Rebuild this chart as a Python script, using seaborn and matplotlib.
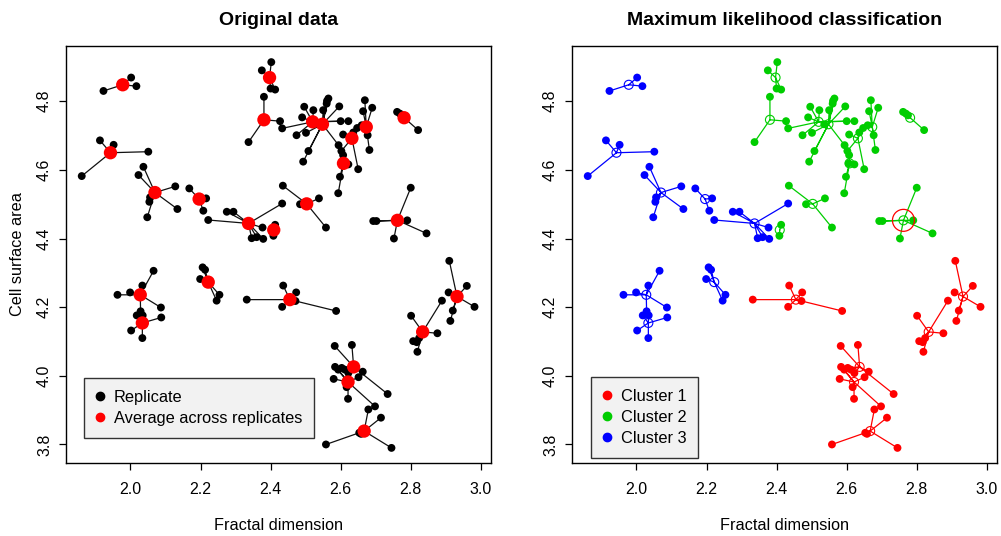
import numpy as np
import pandas as pd
import matplotlib
matplotlib.use("Agg")
import matplotlib.pyplot as plt
from matplotlib.lines import Line2D
import seaborn as sns

# ---- data: replicate measurements grouped by sample, with the sample averages ----
group_name = ["B1", "B2", "B3", "B4", "B5", "B6", "B7", "B8",
              "G1", "G2", "G3a", "G3b", "G3c", "G3d", "G3e", "G4", "G5", "G6", "G7",
              "R1", "R2", "R3", "R4a", "R4b", "R5"]
group_cluster = [3, 3, 3, 3, 3, 3, 3, 3,
                 2, 2, 2, 2, 2, 2, 2, 2, 2, 2, 2,
                 1, 1, 1, 1, 1, 1]

cent_x = [1.978, 1.943, 2.070, 2.196, 2.337, 2.028, 2.034, 2.222,
          2.397, 2.381, 2.520, 2.548, 2.632, 2.673, 2.608, 2.781, 2.503, 2.409, 2.762,
          2.455, 2.834, 2.932, 2.637, 2.621, 2.667]
cent_y = [4.848, 4.650, 4.534, 4.515, 4.444, 4.236, 4.154, 4.273,
          4.869, 4.746, 4.740, 4.733, 4.692, 4.725, 4.619, 4.752, 4.501, 4.425, 4.453,
          4.222, 4.128, 4.231, 4.026, 3.982, 3.839]

rep_x = [
    [1.923, 2.002, 2.017],
    [1.913, 1.952, 2.051, 1.861],
    [2.037, 2.023, 2.128, 2.134, 2.056, 2.054, 2.048],
    [2.168, 2.216, 2.208],
    [2.222, 2.275, 2.294, 2.433, 2.377, 2.346, 2.360, 2.379],
    [1.963, 1.999, 2.034, 2.066, 2.087, 2.029],
    [2.002, 2.034, 2.088, 2.018, 2.035],
    [2.206, 2.213, 2.199, 2.254, 2.246],
    [2.375, 2.402, 2.400, 2.413],
    [2.381, 2.427, 2.337],
    [2.433, 2.490, 2.474, 2.496, 2.600, 2.622, 2.522],
    [2.550, 2.560, 2.565, 2.561, 2.596, 2.501, 2.508, 2.493, 2.536, 2.594],
    [2.607, 2.647, 2.650, 2.636, 2.602],
    [2.669, 2.664, 2.690, 2.677, 2.682, 2.660],
    [2.598, 2.593, 2.606, 2.622, 2.607],
    [2.761, 2.769, 2.775, 2.821],
    [2.435, 2.484, 2.538, 2.558],
    [2.413, 2.408],
    [2.800, 2.693, 2.790, 2.845, 2.752, 2.702],
    [2.332, 2.436, 2.473, 2.433, 2.471, 2.587],
    [2.801, 2.889, 2.876, 2.807, 2.817, 2.824, 2.819],
    [2.910, 2.960, 2.908, 2.982, 2.920, 2.913],
    [2.583, 2.632, 2.734, 2.663, 2.603, 2.612, 2.622],
    [2.698, 2.580, 2.651, 2.621, 2.593, 2.584, 2.617],
    [2.679, 2.715, 2.653, 2.658, 2.558, 2.745],
]
rep_y = [
    [4.830, 4.869, 4.844],
    [4.686, 4.673, 4.653, 4.582],
    [4.609, 4.585, 4.552, 4.486, 4.520, 4.507, 4.462],
    [4.546, 4.517, 4.481],
    [4.454, 4.478, 4.478, 4.502, 4.432, 4.401, 4.404, 4.399],
    [4.236, 4.243, 4.263, 4.306, 4.199, 4.188],
    [4.132, 4.110, 4.170, 4.176, 4.176],
    [4.316, 4.309, 4.282, 4.236, 4.219],
    [4.890, 4.914, 4.837, 4.834],
    [4.813, 4.742, 4.681],
    [4.721, 4.753, 4.701, 4.784, 4.742, 4.742, 4.774],
    [4.774, 4.793, 4.808, 4.801, 4.785, 4.708, 4.655, 4.624, 4.733, 4.672],
    [4.703, 4.722, 4.602, 4.709, 4.655],
    [4.803, 4.771, 4.781, 4.701, 4.658, 4.730],
    [4.580, 4.532, 4.619, 4.616, 4.643],
    [4.769, 4.764, 4.759, 4.716],
    [4.554, 4.500, 4.517, 4.432],
    [4.440, 4.408],
    [4.548, 4.451, 4.453, 4.415, 4.400, 4.451],
    [4.222, 4.263, 4.243, 4.201, 4.218, 4.189],
    [4.175, 4.219, 4.124, 4.101, 4.098, 4.110, 4.070],
    [4.335, 4.262, 4.243, 4.201, 4.190, 4.160],
    [4.087, 4.090, 3.947, 4.012, 4.023, 4.018, 4.008],
    [3.911, 3.991, 3.996, 3.933, 4.018, 4.026, 3.967],
    [3.902, 3.878, 3.834, 3.831, 3.800, 3.790],
]

# sample whose classification is flagged as uncertain
flagged_group = "G7"

cluster_labels = ["Cluster 1", "Cluster 2", "Cluster 3"]
cluster_colors = {1: "#FF0000", 2: "#00CD00", 3: "#0000FF"}

x_ticks = [2.0, 2.2, 2.4, 2.6, 2.8, 3.0]
y_ticks = [3.8, 4.0, 4.2, 4.4, 4.6, 4.8]

# ---- tidy tables ----
reps = pd.DataFrame(
    [(g, c, x, y)
     for g, c, xs, ys in zip(group_name, group_cluster, rep_x, rep_y)
     for x, y in zip(xs, ys)],
    columns=["group", "cluster", "fd", "area"],
)
cents = pd.DataFrame({"group": group_name, "cluster": group_cluster,
                      "fd": cent_x, "area": cent_y})

sns.set_style("white")
plt.rcParams["font.family"] = ["Liberation Sans", "DejaVu Sans"]
plt.rcParams["axes.linewidth"] = 1.0
plt.rcParams["text.color"] = "black"
plt.rcParams["axes.labelcolor"] = "black"
plt.rcParams["axes.titlecolor"] = "black"

fig = plt.figure(figsize=(10.01, 5.36), dpi=100)
ax1 = fig.add_axes([0.0659, 0.1362, 0.4246, 0.778])
ax2 = fig.add_axes([0.5714, 0.1362, 0.4246, 0.778])


def segments(cluster=None):
    xs, ys = [], []
    for g, c, cx, cy, rx, ry in zip(group_name, group_cluster, cent_x, cent_y, rep_x, rep_y):
        if cluster is not None and c != cluster:
            continue
        for x, y in zip(rx, ry):
            xs += [cx, x, np.nan]
            ys += [cy, y, np.nan]
    return xs, ys


# left: raw replicates and their averages
sx, sy = segments()
ax1.plot(sx, sy, color="#111111", lw=0.9, zorder=1)
sns.scatterplot(data=reps, x="fd", y="area", color="black", s=32,
                edgecolor="none", ax=ax1, zorder=3, legend=False)
sns.scatterplot(data=cents, x="fd", y="area", color="#FF0000", s=92,
                edgecolor="none", ax=ax1, zorder=4, legend=False)

# right: classification by cluster
for cl, col in cluster_colors.items():
    sx, sy = segments(cl)
    ax2.plot(sx, sy, color=col, lw=0.9, zorder=1)
sns.scatterplot(data=reps, x="fd", y="area", hue="cluster", palette=cluster_colors,
                s=32, edgecolor="none", ax=ax2, zorder=3, legend=False)
for cl, col in cluster_colors.items():
    sub = cents[cents["cluster"] == cl]
    ax2.scatter(sub["fd"], sub["area"], s=42, facecolors="none", edgecolors=col,
                linewidths=0.8, zorder=4)
flag = cents[cents["group"] == flagged_group]
ax2.scatter(flag["fd"], flag["area"], s=250, facecolors="none", edgecolors="#FF0000",
            linewidths=0.9, zorder=5)

for ax, title in [(ax1, "Original data"), (ax2, "Maximum likelihood classification")]:
    ax.set_xlim(1.816, 3.029)
    ax.set_ylim(3.746, 4.961)
    ax.set_xticks(x_ticks)
    ax.set_yticks(y_ticks)
    ax.set_xticklabels([f"{v:.1f}" for v in x_ticks])
    ax.set_yticklabels([f"{v:.1f}" for v in y_ticks], rotation=90, va="center")
    ax.tick_params(axis="both", direction="out", length=5, width=0.9,
                   labelsize=11.5, color="black", labelcolor="black", bottom=True, left=True)
    ax.tick_params(axis="x", pad=9)
    ax.tick_params(axis="y", pad=5)
    for sp in ax.spines.values():
        sp.set_visible(True)
        sp.set_color("black")
        sp.set_linewidth(1.0)
    ax.set_title(title, fontsize=14, fontweight="bold", pad=15, color="black")
    ax.set_xlabel("Fractal dimension", fontsize=11.7, labelpad=15)
    ax.set_ylabel("")
ax1.set_ylabel("Cell surface area", fontsize=11.7, labelpad=9)

leg_kw = dict(frameon=True, fancybox=False, framealpha=1, facecolor="#F2F2F2",
              edgecolor="#333333", fontsize=11.8, handlelength=0.5, handletextpad=0.6,
              borderpad=0.72, labelspacing=0.38, loc="lower left", borderaxespad=0)

h1 = [Line2D([], [], ls="", marker="o", color="black", markersize=6),
      Line2D([], [], ls="", marker="o", color="#FF0000", markersize=6)]
lg1 = ax1.legend(h1, ["Replicate", "Average across replicates"],
                 bbox_to_anchor=(0.042, 0.060), **leg_kw)
lg1.get_frame().set_linewidth(1.0)

h2 = [Line2D([], [], ls="", marker="o", color=cluster_colors[c], markersize=6) for c in (1, 2, 3)]
lg2 = ax2.legend(h2, cluster_labels, bbox_to_anchor=(0.045, 0.012), **leg_kw)
lg2.get_frame().set_linewidth(1.0)

fig.savefig("out.png", dpi=100)
